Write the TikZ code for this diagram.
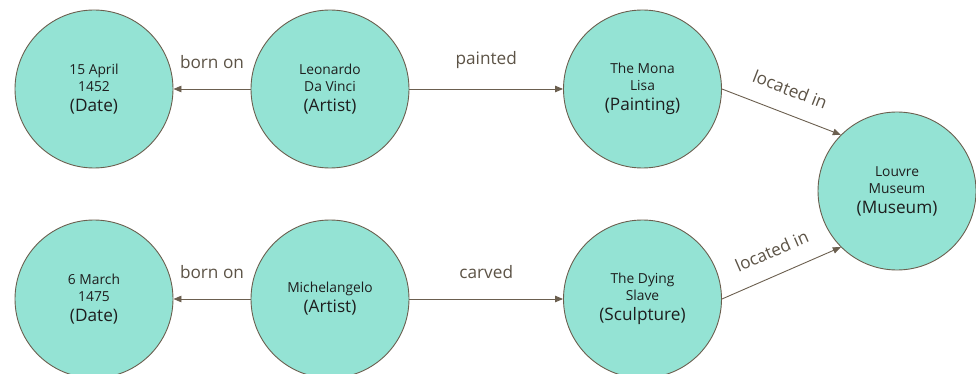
\documentclass[tikz,border=0pt]{standalone}
\usepackage{fontspec}
\setmainfont{Open Sans}
\usetikzlibrary{arrows.meta}
\definecolor{nodefill}{HTML}{94E3D4}
\definecolor{edgecol}{HTML}{6B5F4F}
\definecolor{lblcol}{HTML}{5C5346}
\definecolor{txtcol}{HTML}{1E1E1E}
\newcommand{\nm}{\fontsize{13.8}{17}\selectfont}
\newcommand{\ty}{\fontsize{17.2}{20}\selectfont}
\tikzset{
  ent/.style={circle, draw=edgecol, line width=0.9pt, fill=nodefill, minimum size=158pt, inner sep=0pt, align=center, text=txtcol, font=\nm},
  rel/.style={draw=edgecol, line width=0.9pt, -{Triangle[length=8pt,width=6.5pt]}},
  lbl/.style={text=lblcol, font=\ty, inner sep=0pt}
}
\begin{document}
\begin{tikzpicture}[x=1pt,y=-1pt]
\useasboundingbox (0,0) rectangle (976,374);
\node[ent] (d1) at (94,89) {15 April\\1452\\[3pt]{\ty (Date)}};
\node[ent] (leo) at (330,89) {Leonardo\\Da Vinci\\[3pt]{\ty (Artist)}};
\node[ent] (mona) at (642.5,89) {The Mona\\Lisa\\[3pt]{\ty (Painting)}};
\node[ent] (louvre) at (897,191) {Louvre\\Museum\\[3pt]{\ty (Museum)}};
\node[ent] (d2) at (94,299) {6 March\\1475\\[3pt]{\ty (Date)}};
\node[ent] (mich) at (330,299) {Michelangelo\\[3pt]{\ty (Artist)}};
\node[ent] (slave) at (642.5,299) {The Dying\\Slave\\[3pt]{\ty (Sculpture)}};
\draw[rel] (leo) -- node[lbl, above=20pt] (l1) {born on} (d1);
\draw[rel] (leo) -- node[lbl, above=20pt] (l2) {painted} (mona);
\draw[rel] (mona.east) -- node[lbl, sloped, above=17pt] (l3) {located in} (louvre.135);
\draw[rel] (mich) -- node[lbl, above=20pt] (l4) {born on} (d2);
\draw[rel] (mich) -- node[lbl, above=20pt] (l5) {carved} (slave);
\draw[rel] (slave.east) -- node[lbl, sloped, above=17pt] (l6) {located in} (louvre.225);
\end{tikzpicture}
\end{document}
